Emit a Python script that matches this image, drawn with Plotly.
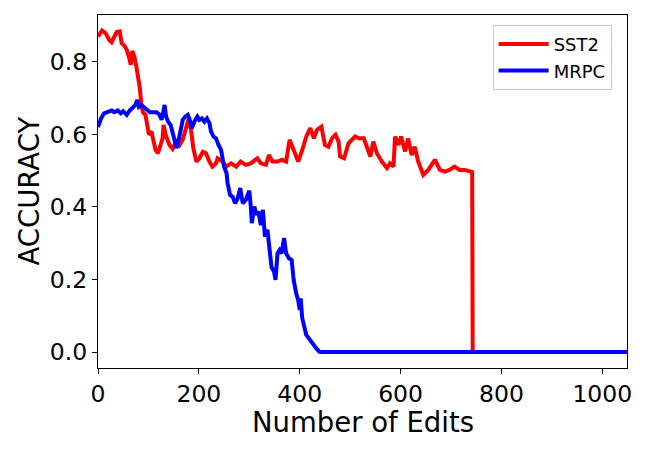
import plotly.graph_objects as go

# SST2 series (number of edits, accuracy)
sst2_x = [0, 2, 8, 15, 22, 27, 32, 37, 43, 47, 52, 57, 62, 65, 68, 72, 76, 79, 83, 86, 89, 94, 98,
          101, 106, 109, 114, 119, 124, 128, 130, 134, 142, 148, 156, 162, 168, 175, 180, 185, 189,
          195, 201, 208, 214, 221, 227, 234, 237, 247, 254, 264, 274, 283, 293, 303, 316, 323, 333,
          339, 346, 356, 365, 373, 380, 388, 397, 405, 413, 421, 428, 434, 443, 450, 457, 464, 471,
          477, 480, 488, 497, 510, 517, 527, 532, 540, 546, 553, 563, 573, 579, 586, 589, 596, 601,
          609, 615, 622, 628, 635, 645, 655, 668, 678, 688, 697, 707, 717, 727, 737, 742, 743, 1049]
sst2_y = [0.870, 0.874, 0.886, 0.879, 0.861, 0.854, 0.867, 0.882, 0.884, 0.851, 0.845, 0.833, 0.810,
          0.792, 0.830, 0.815, 0.787, 0.764, 0.727, 0.681, 0.661, 0.654, 0.617, 0.599, 0.608, 0.585,
          0.557, 0.548, 0.571, 0.589, 0.626, 0.599, 0.570, 0.560, 0.585, 0.571, 0.585, 0.617, 0.644,
          0.608, 0.562, 0.525, 0.534, 0.552, 0.548, 0.525, 0.511, 0.520, 0.534, 0.525, 0.511, 0.520,
          0.511, 0.525, 0.516, 0.520, 0.534, 0.520, 0.516, 0.543, 0.525, 0.525, 0.530, 0.525, 0.585,
          0.557, 0.525, 0.557, 0.594, 0.617, 0.589, 0.612, 0.621, 0.571, 0.566, 0.589, 0.599, 0.580,
          0.539, 0.534, 0.576, 0.594, 0.589, 0.589, 0.571, 0.539, 0.580, 0.548, 0.525, 0.507, 0.520,
          0.511, 0.594, 0.571, 0.594, 0.553, 0.589, 0.543, 0.566, 0.525, 0.488, 0.502, 0.530, 0.502,
          0.497, 0.502, 0.511, 0.502, 0.502, 0.497, 0.496, 0.0, 0.0]

# MRPC series (number of edits, accuracy)
mrpc_x = [0, 1, 6, 12, 20, 27, 32, 39, 45, 50, 57, 63, 70, 74, 78, 81, 86, 91, 96, 103, 109, 116,
          122, 126, 129, 132, 135, 139, 144, 148, 153, 156, 160, 164, 168, 173, 178, 181, 186, 191,
          197, 201, 206, 211, 216, 221, 224, 229, 234, 239, 244, 247, 250, 255, 257, 262, 267, 272,
          277, 282, 287, 293, 300, 303, 305, 310, 314, 318, 323, 327, 331, 336, 340, 344, 349, 352,
          356, 360, 364, 369, 373, 379, 384, 388, 393, 397, 400, 402, 405, 408, 413, 418, 425, 429,
          433, 439, 441, 1049]
mrpc_y = [0.620, 0.626, 0.644, 0.658, 0.661, 0.666, 0.661, 0.666, 0.658, 0.664, 0.654, 0.666, 0.675,
          0.681, 0.695, 0.676, 0.681, 0.676, 0.668, 0.661, 0.661, 0.661, 0.654, 0.640, 0.658, 0.681,
          0.649, 0.635, 0.626, 0.603, 0.585, 0.562, 0.585, 0.617, 0.640, 0.649, 0.654, 0.644, 0.617,
          0.635, 0.649, 0.640, 0.644, 0.635, 0.644, 0.631, 0.608, 0.594, 0.589, 0.571, 0.557, 0.534,
          0.511, 0.493, 0.465, 0.433, 0.428, 0.410, 0.424, 0.452, 0.410, 0.419, 0.445, 0.401, 0.355,
          0.401, 0.378, 0.387, 0.350, 0.392, 0.318, 0.337, 0.272, 0.235, 0.222, 0.199, 0.272, 0.281,
          0.272, 0.314, 0.272, 0.258, 0.254, 0.199, 0.162, 0.143, 0.116, 0.148, 0.093, 0.070, 0.047,
          0.038, 0.024, 0.019, 0.010, 0.001, 0.0, 0.0]

x_ticks = [0, 200, 400, 600, 800, 1000]
y_ticks = [0.0, 0.2, 0.4, 0.6, 0.8]

FONT = "DejaVu Sans"

fig = go.Figure()
fig.add_trace(go.Scatter(x=sst2_x, y=sst2_y, mode="lines", name="SST2",
                         line=dict(color="#ff0000", width=4)))
fig.add_trace(go.Scatter(x=mrpc_x, y=mrpc_y, mode="lines", name="MRPC",
                         line=dict(color="#0000ff", width=4)))

axis_common = dict(showline=True, linecolor="black", linewidth=1.2, mirror=True,
                   ticks="outside", ticklen=5, tickwidth=1.2, tickcolor="black",
                   showgrid=False, zeroline=False, automargin=False,
                   tickfont=dict(family=FONT, size=23.5, color="black"))

fig.update_xaxes(range=[0, 1049], tickvals=x_ticks, **axis_common)
fig.update_yaxes(range=[-0.044, 0.929], tickvals=y_ticks, tickformat=".1f", **axis_common)

fig.add_annotation(text="Number of Edits", xref="paper", yref="paper", x=0.5, y=-0.153,
                   xanchor="center", yanchor="middle", showarrow=False,
                   font=dict(family=FONT, size=27.5, color="black"))
fig.add_annotation(text="ACCURACY", xref="paper", yref="paper", x=-0.1323, y=0.5,
                   xanchor="center", yanchor="middle", showarrow=False, textangle=-90,
                   font=dict(family=FONT, size=27.5, color="black"))

fig.update_layout(
    width=650, height=450,
    margin=dict(l=98, r=23, t=15, b=82),
    paper_bgcolor="white", plot_bgcolor="white",
    font=dict(family=FONT, color="black"),
    legend=dict(x=0.746, y=0.972, xanchor="left", yanchor="top",
                bgcolor="white", bordercolor="#cccccc", borderwidth=1,
                font=dict(family=FONT, size=18, color="black"),
                itemwidth=50, tracegroupgap=2),
    showlegend=True,
)

fig.write_html("out.html", config={"displayModeBar": False},
               post_script="document.body.style.margin='0';")
